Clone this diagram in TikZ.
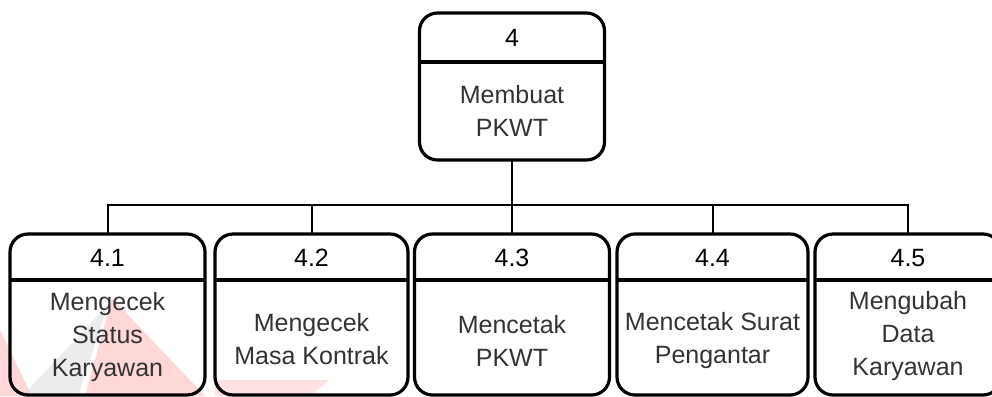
\documentclass[tikz,border=0pt]{standalone}
\usepackage{fontspec}
\setmainfont{Liberation Sans}
\begin{document}
\begin{tikzpicture}[x=1pt,y=-1pt,
  procbox/.style={draw, line width=3.2pt, rounded corners=18pt, inner sep=0pt, outer sep=0pt},
  divider/.style={line width=3.2pt},
  numtxt/.style={font=\fontsize{25}{30}\selectfont, text=black, inner sep=0pt},
  lbltxt/.style={font=\fontsize{25}{33}\selectfont, align=center, text=black!80, inner sep=0pt},
  conn/.style={line width=2pt}]
\useasboundingbox (0,0) rectangle (992,396);
\clip (0,0) rectangle (992,396);
% faint watermark
\fill[red!45!white, opacity=0.35] (112,298) -- (205,396) -- (85,396) -- cycle;
\fill[red!45!white, opacity=0.35] (0,330) -- (32,396) -- (0,396) -- cycle;
\fill[gray!30, opacity=0.5] (22,396) -- (108,305) -- (78,396) -- cycle;
\fill[red!45!white, opacity=0.25] (215,380) -- (330,380) -- (310,396) -- (215,396) -- cycle;
% top process
\node[procbox, minimum width=185pt, minimum height=147pt] (p4) at (512,86.5) {};
\draw[divider] (p4.west |- 0,62) -- (p4.east |- 0,62);
\node[numtxt] (p4n) at (512,38) {4};
\node[lbltxt] (p4l) at (512,111) {Membuat\\PKWT};
% children
\node[procbox, minimum width=195pt, minimum height=161pt] (p41) at (107.5,314.5) {};
\node[procbox, minimum width=193pt, minimum height=161pt] (p42) at (311.5,314.5) {};
\node[procbox, minimum width=195pt, minimum height=161pt] (p43) at (512,314.5) {};
\node[procbox, minimum width=191pt, minimum height=161pt] (p44) at (712.5,314.5) {};
\node[procbox, minimum width=186pt, minimum height=161pt] (p45) at (908,314.5) {};
\foreach \n in {p41,p42,p43,p44,p45}{
  \draw[divider] (\n.west |- 0,280) -- (\n.east |- 0,280);
}
\node[numtxt] (p41n) at (107.5,258) {4.1};
\node[numtxt] (p42n) at (311.5,258) {4.2};
\node[numtxt] (p43n) at (512,258) {4.3};
\node[numtxt] (p44n) at (712.5,258) {4.4};
\node[numtxt] (p45n) at (908,258) {4.5};
\node[lbltxt] (p41l) at (107.5,337) {Mengecek\\Status\\Karyawan};
\node[lbltxt] (p42l) at (311.5,339) {Mengecek\\Masa Kontrak};
\node[lbltxt] (p43l) at (512,341) {Mencetak\\PKWT};
\node[lbltxt] (p44l) at (712.5,341) {Mencetak Surat\\Pengantar};
\node[lbltxt] (p45l) at (908,336) {Mengubah\\Data\\Karyawan};
% connectors
\coordinate (bus) at (512,205);
\draw[conn] (p4.south) -- (bus);
\draw[conn] (p41.north) |- (bus);
\draw[conn] (p42.north) |- (bus);
\draw[conn] (p43.north) -- (bus);
\draw[conn] (p44.north) |- (bus);
\draw[conn] (p45.north) |- (bus);
\end{tikzpicture}
\end{document}
